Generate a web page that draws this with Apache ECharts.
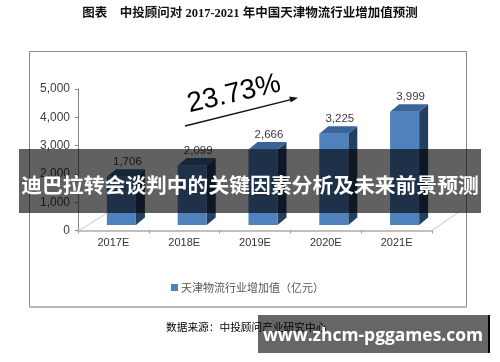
<!DOCTYPE html>
<html>
<head>
<meta charset="utf-8">
<style>
html,body{margin:0;padding:0;background:#fff;}
#c{width:500px;height:362px;}
</style>
<script src="https://cdn.jsdelivr.net/npm/echarts@6/dist/echarts.min.js"></script>
</head>
<body>
<div id="c"></div>
<script>
var categories = ['2017E', '2018E', '2019E', '2020E', '2021E'];
var values = [1706, 2099, 2666, 3225, 3999];
var valueLabels = ['1,706', '2,099', '2,666', '3,225', '3,999'];
var yTickValues = [0, 1000, 2000, 3000, 4000, 5000];
var yTickLabels = ['0', '1,000', '2,000', '3,000', '4,000', '5,000'];
var seriesName = '天津物流行业增加值（亿元）';
var growthText = '23.73%';

var chart = echarts.init(document.getElementById('c'), null, {renderer: 'canvas'});

var FRONT = '#4f81bd', TOP = '#3a6497', SIDE = '#25405f';

function renderItem(params, api) {
  var idx = api.value(0);
  var v = api.value(1);
  var base = api.coord([idx, 0]);
  var top = api.coord([idx, v]);
  var band = api.size([1, 0])[0];
  var w = band * 0.41;
  var cx = base[0] + 8;
  var x0 = cx - w / 2, x1 = cx + w / 2;
  var yb = base[1] - 5.5, yt = top[1] - 5.5;
  var dx = 9, dy = -7.5;
  var children = [
    {type: 'polygon', shape: {points: [[x1, yt], [x1 + dx, yt + dy], [x1 + dx, yb + dy], [x1, yb]]}, style: {fill: SIDE}},
    {type: 'rect', shape: {x: x0, y: yt, width: w, height: yb - yt}, style: {fill: FRONT}},
    {type: 'polygon', shape: {points: [[x0, yt], [x1, yt], [x1 + dx, yt + dy], [x0 + dx, yt + dy]]}, style: {fill: TOP}},
    {type: 'text', style: {text: valueLabels[params.dataIndex], x: cx + 6, y: yt - 15, align: 'center', verticalAlign: 'middle', fill: '#3a3a3a', font: '11.5px "Liberation Sans", Arial, sans-serif'}}
  ];
  if (params.dataIndex === 0) {
    var lx = base[0] - band / 2 + 1;
    children.push({type: 'line', shape: {x1: lx, y1: base[1], x2: lx + 29, y2: base[1] - 18}, style: {stroke: '#c8c8c8', lineWidth: 1}});
  }
  if (params.dataIndex === categories.length - 1) {
    var rx = base[0] + band / 2;
    children.push({type: 'line', shape: {x1: rx, y1: base[1], x2: rx + 26, y2: base[1] - 18}, style: {stroke: '#c8c8c8', lineWidth: 1}});
  }
  return {type: 'group', children: children};
}

var option = {
  animation: false,
  backgroundColor: '#fff',
  grid: {left: 78, right: 68, top: 89, bottom: 131.5, containLabel: false},
  legend: {
    data: [{name: seriesName, icon: 'rect'}],
    left: 166, top: 277,
    itemWidth: 7, itemHeight: 7, itemGap: 4,
    textStyle: {fontSize: 11, color: '#555', fontFamily: '"Noto Sans CJK SC", sans-serif', padding: [0, 0, 0, -2]}
  },
  xAxis: {
    type: 'category',
    data: categories,
    boundaryGap: true,
    axisLine: {show: true, lineStyle: {color: '#c0c0c0', width: 2}},
    axisTick: {show: true, length: 3, lineStyle: {color: '#9a9a9a'}},
    axisLabel: {margin: 7, fontSize: 11, color: '#333', fontFamily: '"Liberation Sans", Arial, sans-serif'},
    splitLine: {show: false}
  },
  yAxis: {
    type: 'value',
    min: 0, max: 5000, interval: 1000,
    axisLine: {show: true, lineStyle: {color: '#868686', width: 1}},
    axisTick: {show: true, length: 3, lineStyle: {color: '#868686'}},
    axisLabel: {margin: 8, fontSize: 12, color: '#3c3c50', fontFamily: '"Liberation Sans", Arial, sans-serif',
      formatter: function (v) { var i = yTickValues.indexOf(v); return i >= 0 ? yTickLabels[i] : ''; }},
    splitLine: {show: false}
  },
  series: [{
    name: seriesName,
    type: 'custom',
    renderItem: renderItem,
    itemStyle: {color: FRONT},
    encode: {x: 0, y: 1},
    data: categories.map(function (c, i) { return [i, values[i]]; }),
    z: 5
  }],
  graphic: [
    {type: 'text', left: 'center', top: 8, style: {text: '图表　中投顾问对 2017-2021 年中国天津物流行业增加值预测', fill: '#111', font: 'bold 12.5px "Liberation Serif", "Noto Sans CJK SC", serif'}, z: 10},
    {type: 'rect', shape: {x: 29.5, y: 51.5, width: 437, height: 255}, style: {fill: 'none', stroke: '#8c8c8c', lineWidth: 1}, z: 1},
    {type: 'line', shape: {x1: 29.5, y1: 307, x2: 466.5, y2: 307}, style: {stroke: '#b8b8b8', lineWidth: 2}, z: 2},
    {type: 'text', x: 234, y: 94, rotation: 13 * Math.PI / 180, style: {text: growthText, fill: '#000', font: '28px "Liberation Sans", Arial, sans-serif', align: 'center', verticalAlign: 'middle'}, z: 10},
    {type: 'line', shape: {x1: 185, y1: 126, x2: 292, y2: 99.3}, style: {stroke: '#111', lineWidth: 1.3}, z: 10},
    {type: 'polygon', shape: {points: [[298, 97.8], [289.2, 96.6], [290.7, 102.4]]}, style: {fill: '#111'}, z: 10},
    {type: 'text', x: 166, y: 327, style: {text: '数据来源：中投顾问产业研究中心', fill: '#000', font: '10.7px "Noto Sans CJK SC", sans-serif', verticalAlign: 'middle'}, z: 10},
    {type: 'rect', shape: {x: 19, y: 149, width: 462, height: 64}, style: {fill: 'rgba(0,0,0,0.62)'}, z: 100},
    {type: 'text', x: 250, y: 185, style: {text: '迪巴拉转会谈判中的关键因素分析及未来前景预测', fill: '#fff', font: 'bold 20.8px "Noto Sans CJK SC", sans-serif', align: 'center', verticalAlign: 'middle'}, z: 101},
    {type: 'rect', shape: {x: 258, y: 315, width: 230, height: 38}, style: {fill: 'rgba(0,0,0,0.6)'}, z: 100},
    {type: 'line', shape: {x1: 489, y1: 315, x2: 489, y2: 353}, style: {stroke: '#000', lineWidth: 2}, z: 100},
    {type: 'text', x: 373, y: 336, style: {text: 'www.zhcm-pggames.com', fill: '#fff', font: 'bold 17.4px "Open Sans", "DejaVu Sans", sans-serif', align: 'center', verticalAlign: 'middle'}, z: 101}
  ]
};
chart.setOption(option);
</script>
</body>
</html>
